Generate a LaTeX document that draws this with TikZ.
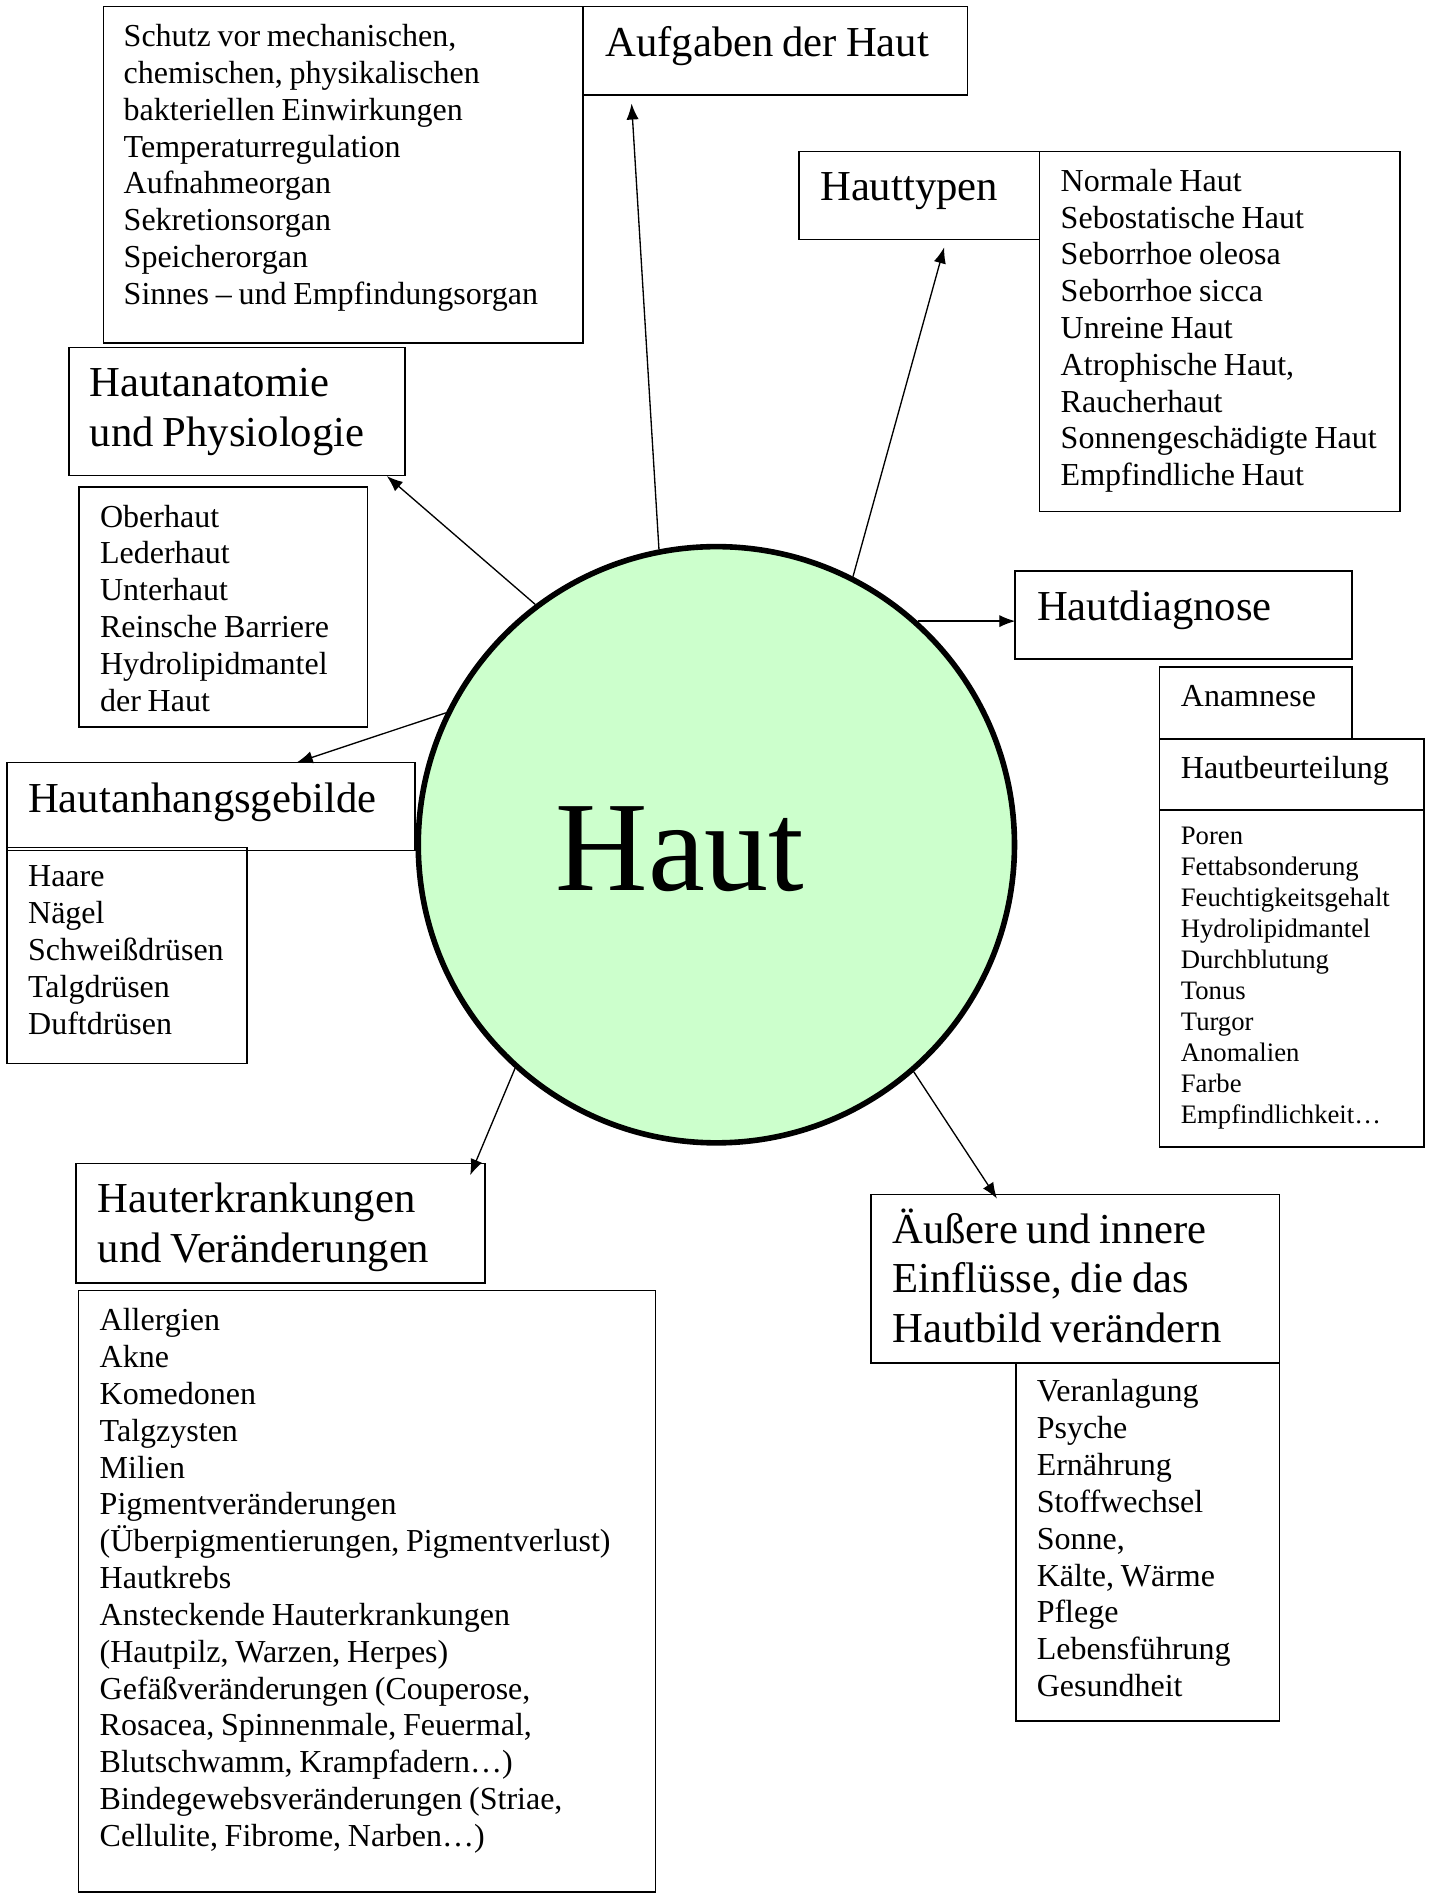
\documentclass[tikz,border=0pt]{standalone}
\usepackage{fontspec}
\setmainfont{Liberation Serif}[Ligatures={TeX,NoCommon}]
\usetikzlibrary{arrows.meta}
\usetikzlibrary{fit}
\usetikzlibrary{calc}
\definecolor{hautgruen}{HTML}{CCFFCC}
\frenchspacing

\tikzset{
  box/.style={draw, line width=0.6pt, inner sep=0pt, outer sep=0pt},
  txt/.style={anchor=base west, inner sep=0pt, align=left, text width=#1,
    execute at begin node={\spaceskip=0.21em\relax}},
  txt/.default=200pt,
  kopf/.style={font=\fontsize{16}{18.6}\selectfont},
  liste/.style={font=\fontsize{12}{13.8}\selectfont},
  klein/.style={font=\fontsize{10}{11.6}\selectfont},
  pfeil/.style={line width=0.5pt, -{Latex[length=6pt,width=4.6pt]}}
}

\begin{document}
\begin{tikzpicture}[x=0.454pt, y=-0.454pt]

\fill [white] (0,0) rectangle (1181,1568);
\useasboundingbox (0,0) rectangle (1181,1568);

%BOXES
%Aufgaben
\node [box, fit={(85.3,5.5) (481.5,283)}] (schutz) {};
\node [box, fit={(481.5,5.5) (799,78.5)}] (aufgaben) {};
%Hauttypen
\node [box, fit={(659.6,125) (858.2,197.6)}] (hauttypen) {};
\node [box, fit={(858.2,125) (1156.1,422.3)}] (typenListe) {};
%Anatomie
\node [box, fit={(56.9,286.9) (334.4,392.6)}] (anatomie) {};
\node [box, fit={(65.1,402) (303.4,600.5)}] (anatomieListe) {};
%Diagnose
\node [box, fit={(838.3,471.3) (1116.3,544)}] (diagnose) {};
\node [box, fit={(957.5,550.6) (1116.3,610.4)}] (anamnese) {};
\node [box, fit={(957.5,610.4) (1176,669)}] (beurteilung) {};
\node [box, fit={(957.5,669) (1176,947)}] (beurteilungListe) {};
%Anhangsgebilde
\node [box, fit={(5.7,629.6) (342.9,702.3)}] (anhang) {};
\node [box, fit={(5.7,699.8) (203.9,878)}] (anhangListe) {};
%Erkrankungen
\node [box, fit={(62.7,960.8) (400.6,1059.5)}] (erkrankungen) {};
\node [box, fit={(64.9,1065.4) (541.2,1562)}] (erkrankungenListe) {};
%Einfluesse
\node [box, fit={(719.1,986.4) (1056.6,1125.4)}] (einfluesse) {};
\node [box, fit={(838.8,1125.4) (1056.6,1421)}] (einfluesseListe) {};

%CIRCLE
\node [circle, draw, line width=2.1pt, fill=hautgruen, minimum size=223.5pt, inner sep=0pt] (haut) at (591.5,697.5) {};
\node [anchor=base, inner sep=0pt, font=\fontsize{48}{56}\selectfont] (hautText) at (561.5,735.5) {Haut};

%TEXTS
\node [txt, liste] (schutzText) at (101.7,38.5) {Schutz vor mechanischen,\\ chemischen, physikalischen\\ bakteriellen Einwirkungen\\ Temperaturregulation\\ Aufnahmeorgan\\ Sekretionsorgan\\ Speicherorgan\\ Sinnes – und Empfindungsorgan};
\node [txt, kopf] (aufgabenText) at (499.4,46.8) {Aufgaben der Haut};
\node [txt, kopf] (hauttypenText) at (676.8,165.5) {Hauttypen};
\node [txt, liste] (typenText) at (875.4,157.9) {Normale Haut\\ Sebostatische Haut\\ Seborrhoe oleosa\\ Seborrhoe sicca\\ Unreine Haut\\ Atrophische Haut,\\ Raucherhaut\\ Sonnengeschädigte Haut\\ Empfindliche Haut};
\node [txt, kopf] (anatomieText) at (73.7,327.6) {Hautanatomie\\ und Physiologie};
\node [txt, liste] (schichtenText) at (82.2,435.2) {Oberhaut\\ Lederhaut\\ Unterhaut\\ Reinsche Barriere\\ Hydrolipidmantel\\ der Haut};
\node [txt, kopf] (diagnoseText) at (855.8,512.2) {Hautdiagnose};
\node [txt, liste] (anamneseText) at (974.6,583.6) {Anamnese};
\node [txt, liste] (beurteilungText) at (974.6,642.8) {Hautbeurteilung};
\node [txt, klein] (merkmaleText) at (974.6,697.3) {Poren\\ Fettabsonderung\\ Feuchtigkeitsgehalt\\ Hydrolipidmantel\\ Durchblutung\\ Tonus\\ Turgor\\ Anomalien\\ Farbe\\ Empfindlichkeit…};
\node [txt, kopf] (anhangText) at (22.8,670.6) {Hautanhangsgebilde};
\node [txt, liste] (gebildeText) at (22.8,732.3) {Haare\\ Nägel\\ Schweißdrüsen\\ Talgdrüsen\\ Duftdrüsen};
\node [txt, kopf] (erkrankungenText) at (80.4,1001.5) {Hauterkrankungen\\ und Veränderungen};
\node [txt=230pt, liste] (krankheitenText) at (81.9,1098.9) {Allergien\\ Akne\\ Komedonen\\ Talgzysten\\ Milien\\ Pigmentveränderungen\\ (Überpigmentierungen, Pigmentverlust)\\ Hautkrebs\\ Ansteckende Hauterkrankungen\\ (Hautpilz, Warzen, Herpes)\\ Gefäßveränderungen (Couperose,\\ Rosacea, Spinnenmale, Feuermal,\\ Blutschwamm, Krampfadern…)\\ Bindegewebsveränderungen (Striae,\\ Cellulite, Fibrome, Narben…)};
\node [txt, kopf, font=\fontsize{16}{18.43}\selectfont] (einfluesseText) at (736.4,1026.9) {Äußere und innere\\ Einflüsse, die das\\ Hautbild verändern};
\node [txt, liste] (faktorenText) at (855.6,1157.6) {Veranlagung\\ Psyche\\ Ernährung\\ Stoffwechsel\\ Sonne,\\ Kälte, Wärme\\ Pflege\\ Lebensführung\\ Gesundheit};

%ARROWS
\draw [pfeil] (haut.101.5) -- ($(aufgaben.south west)+(40,7)$);
\draw [pfeil] (haut.63.4) -- ($(hauttypen.south west)+(120,6.6)$);
\draw [pfeil] (haut.127.4) -- ($(anatomie.south east)+(-15,0.5)$);
\draw [pfeil] (haut.48.2) -- (haut.48.2 -| diagnose.west);
\draw [pfeil] (haut.154.8) -- ($(anhang.north west)+(239.3,0)$);
\draw [pfeil] (haut.228.3) -- ($(erkrankungen.north east)+(-12.4,9.6)$);
\draw [pfeil] (haut.311) -- ($(einfluesse.north west)+(104.1,3.3)$);

\end{tikzpicture}
\end{document}
